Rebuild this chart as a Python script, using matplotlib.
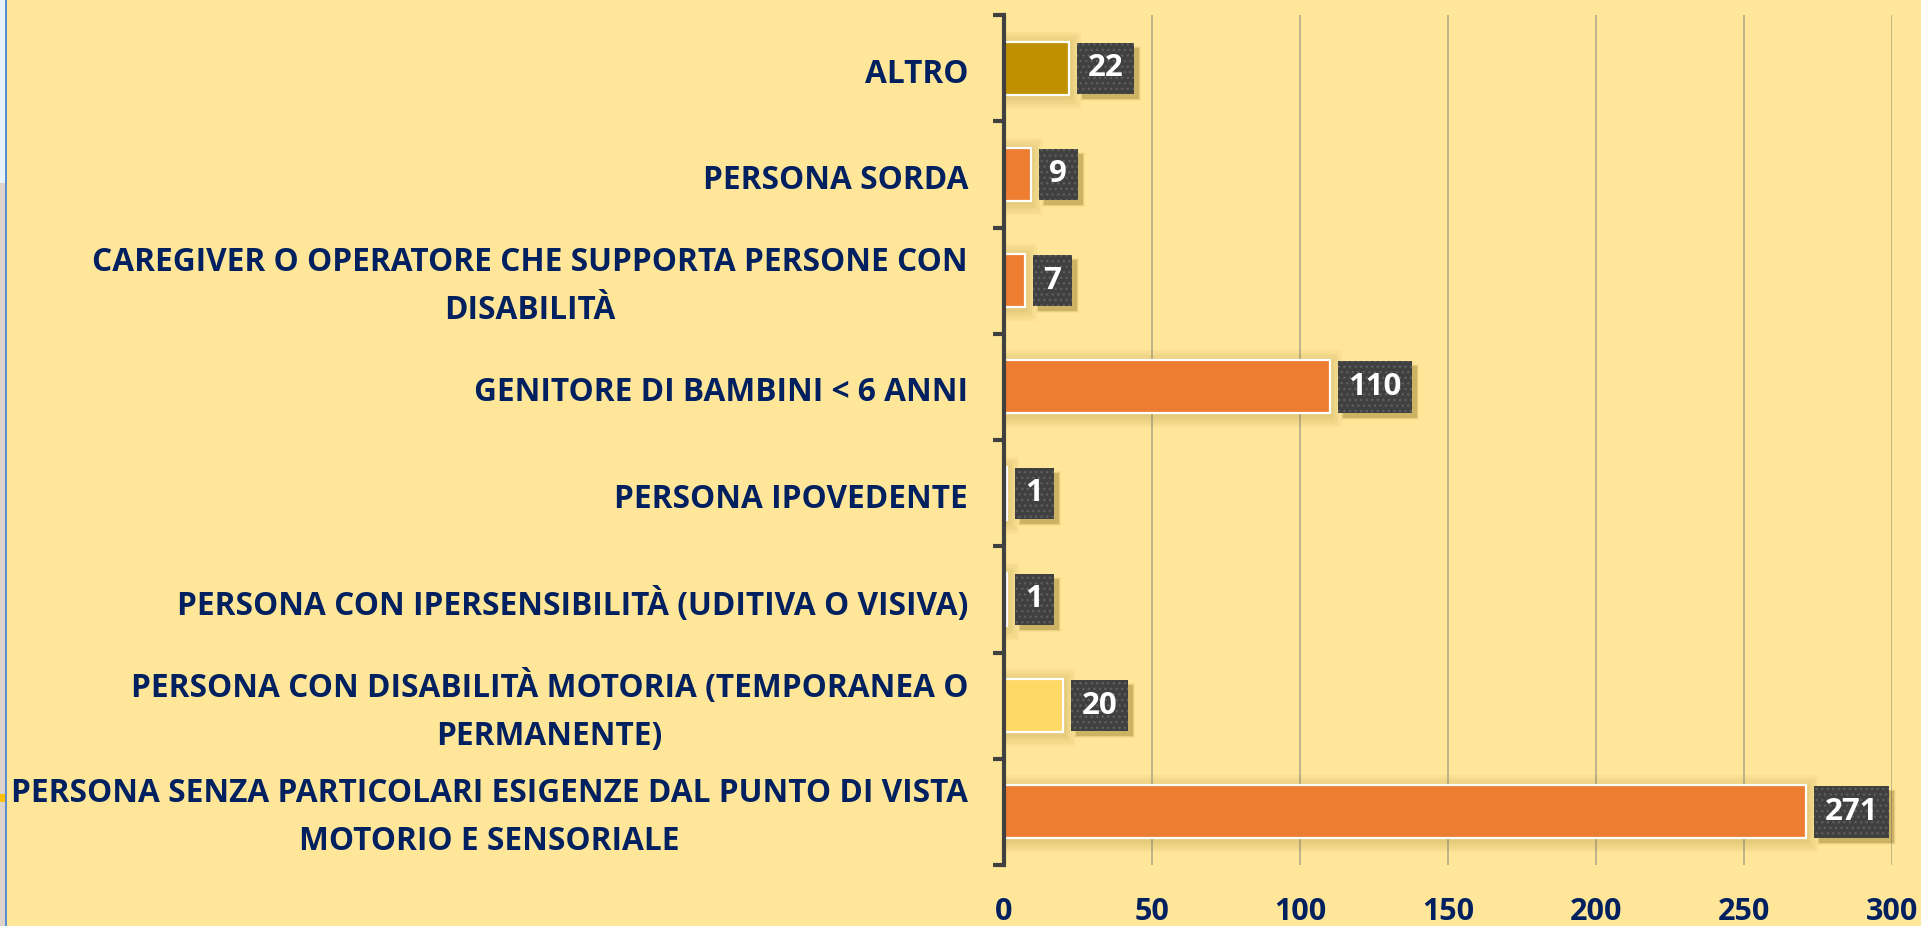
import matplotlib
matplotlib.use("Agg")
import matplotlib.pyplot as plt
from matplotlib.patches import Rectangle
from matplotlib.transforms import IdentityTransform, offset_copy
import numpy as np

# ---------------- data ----------------
categories = [
    "PERSONA SENZA PARTICOLARI ESIGENZE DAL PUNTO DI VISTA\nMOTORIO E SENSORIALE",
    "PERSONA CON DISABILITÀ MOTORIA (TEMPORANEA O\nPERMANENTE)",
    "PERSONA CON IPERSENSIBILITÀ (UDITIVA O VISIVA)",
    "PERSONA IPOVEDENTE",
    "GENITORE DI BAMBINI < 6 ANNI",
    "CAREGIVER O OPERATORE CHE SUPPORTA PERSONE CON\nDISABILITÀ",
    "PERSONA SORDA",
    "ALTRO",
]
values = [271, 20, 1, 1, 110, 7, 9, 22]
bar_colors = ["#ED7D31", "#FFD966", "#ED7D31", "#ED7D31",
              "#ED7D31", "#ED7D31", "#ED7D31", "#BF9000"]
x_ticks = [0, 50, 100, 150, 200, 250, 300]
x_labels = ["0", "50", "100", "150", "200", "250", "300"]

# ---------------- style ----------------
plt.rcParams["font.family"] = ["Open Sans", "DejaVu Sans"]
BG = "#FFE699"
NAVY = "#002060"
DARK = "#404040"

W, H = 1921, 926
fig = plt.figure(figsize=(W / 100, H / 100), dpi=100, facecolor=BG)

# decorative left strip
fig.patches.append(Rectangle((0, 0), 5 / W, 1, transform=fig.transFigure,
                             facecolor="#DCD3CB", edgecolor="none", zorder=0))
fig.patches.append(Rectangle((0, 1 - 183 / H), 5 / W, 183 / H, transform=fig.transFigure,
                             facecolor="#E8F4FB", edgecolor="none", zorder=1))
fig.patches.append(Rectangle((0, 1 - 802 / H), 5 / W, 8 / H, transform=fig.transFigure,
                             facecolor="#FFC000", edgecolor="none", zorder=1))
fig.patches.append(Rectangle((5 / W, 0), 2 / W, 1, transform=fig.transFigure,
                             facecolor="#5B8BD0", edgecolor="none", zorder=2))

ax = fig.add_axes([1004 / W, 61 / H, 888 / W, 850 / H])
ax.set_facecolor(BG)
ax.set_xlim(0, 300)
ax.set_ylim(-0.5, 7.5)

y = np.arange(len(categories))

# soft bar shadows
px_x = 300 / 888
px_y = 8 / 850
for k in range(1, 6):
    ext = 2.4 * k
    ax.barh(y - 2 * px_y, np.array(values) + ext * px_x, height=0.5 + 2 * ext * px_y,
            left=0, color="#7F6000", alpha=0.04, linewidth=0, zorder=2)

ax.barh(y, values, height=0.5, color=bar_colors, edgecolor="white",
        linewidth=1.6, zorder=3)

# value labels in dark dotted boxes
pad = 0.34
fs_val = 22.5
pad_px = pad * fs_val * 100 / 72
off = (8 + pad_px) * 72 / 100
anns = []
for yi, v in zip(y, values):
    a = ax.annotate(str(v), xy=(v, yi), xytext=(off, 0), textcoords="offset points",
                    ha="left", va="center", fontsize=fs_val, fontweight="bold",
                    color="white", zorder=5,
                    bbox=dict(boxstyle=f"square,pad={pad}", fc=DARK, ec="#5E5E5E",
                              lw=0, hatch="..."))
    anns.append(a)

# axes styling
for s in ["top", "right", "bottom"]:
    ax.spines[s].set_visible(False)
ax.spines["left"].set_color(DARK)
ax.spines["left"].set_linewidth(3)
ax.spines["left"].set_zorder(6)

ax.set_xticks(x_ticks)
ax.set_xticklabels(x_labels)
ax.xaxis.grid(True, color="#BFB38C", linewidth=1.4, zorder=1)
ax.set_axisbelow(True)
ax.tick_params(axis="x", length=0, pad=23, labelsize=22, labelcolor=NAVY)
for t in ax.get_xticklabels():
    t.set_fontweight("bold")

# category labels
ax.set_yticks(y)
ax.set_yticklabels([])
ax.set_yticks(np.arange(-0.5, 8.0, 1.0), minor=True)
ax.tick_params(axis="y", which="major", length=0)
ax.tick_params(axis="y", which="minor", length=8, width=3, color=DARK)
lab_tr = offset_copy(ax.get_yaxis_transform(), fig=fig, x=-36, y=-6, units="dots")
for yi, c in zip(y, categories):
    ax.text(0, yi, c, transform=lab_tr, ha="right", va="center", multialignment="center",
            fontsize=22.8, fontweight="bold", color=NAVY, linespacing=1.6, clip_on=False)

# drop shadows for the value boxes
fig.canvas.draw()
for a in anns:
    bb = a.get_bbox_patch().get_window_extent()
    for k, al in [(0, 0.22), (2, 0.10), (4, 0.05)]:
        ax.add_patch(Rectangle((bb.x0 + 5 - k / 2, bb.y0 - 5 - k / 2), bb.width + k, bb.height + k,
                               transform=IdentityTransform(), facecolor="#6B5200",
                               edgecolor="none", alpha=al, zorder=4, clip_on=False))

fig.savefig("out.png", dpi=100, facecolor=BG)
